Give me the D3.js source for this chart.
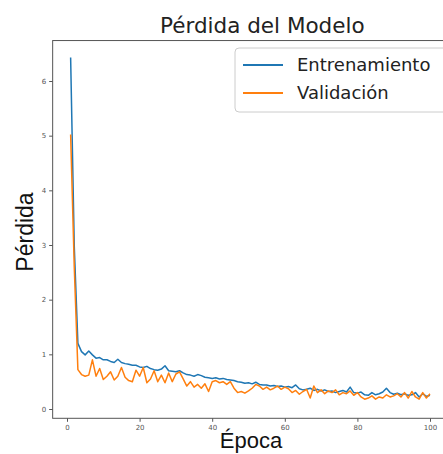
<!DOCTYPE html>
<html><head><meta charset="utf-8">
<script src="https://cdn.jsdelivr.net/npm/d3@7"></script>
<style>html,body{margin:0;padding:0;background:#fff;overflow:hidden}</style>
</head><body>
<svg id="c" width="443" height="454"></svg>
<script>
const epochs = d3.range(1, 101);
const trainLoss = [6.43,2.98,1.2,1.05,0.99,1.06,0.99,0.93,0.94,0.9,
0.9,0.87,0.85,0.91,0.85,0.83,0.82,0.8,0.8,0.77,
0.76,0.78,0.74,0.72,0.71,0.73,0.79,0.7,0.69,0.68,
0.7,0.66,0.63,0.62,0.6,0.63,0.61,0.58,0.57,0.56,
0.57,0.55,0.56,0.54,0.53,0.52,0.5,0.49,0.47,0.48,
0.46,0.49,0.45,0.44,0.44,0.42,0.43,0.41,0.42,0.4,
0.41,0.39,0.44,0.37,0.35,0.36,0.38,0.34,0.36,0.33,
0.35,0.32,0.33,0.3,0.32,0.34,0.31,0.4,0.3,0.29,
0.31,0.26,0.25,0.3,0.26,0.28,0.31,0.38,0.3,0.27,
0.29,0.26,0.28,0.25,0.26,0.3,0.22,0.28,0.23,0.25];
const valLoss = [5.02,2.6,0.72,0.63,0.6,0.62,0.9,0.6,0.74,0.54,
0.6,0.68,0.53,0.6,0.76,0.58,0.52,0.5,0.71,0.6,
0.76,0.48,0.55,0.7,0.5,0.62,0.48,0.66,0.5,0.64,
0.68,0.55,0.42,0.5,0.4,0.45,0.38,0.46,0.32,0.5,
0.52,0.48,0.5,0.45,0.5,0.38,0.3,0.32,0.29,0.33,
0.38,0.45,0.42,0.36,0.4,0.35,0.38,0.42,0.36,0.4,
0.37,0.3,0.34,0.27,0.32,0.36,0.2,0.42,0.3,0.35,
0.28,0.33,0.3,0.35,0.26,0.3,0.28,0.33,0.25,0.3,
0.22,0.18,0.2,0.24,0.18,0.22,0.2,0.26,0.22,0.24,
0.28,0.22,0.3,0.2,0.32,0.22,0.18,0.3,0.2,0.28];
const xTicks = [0,20,40,60,80,100];
const yTicks = [0,1,2,3,4,5,6];
const seriesNames = ["Entrenamiento","Validación"];
const colors = ["#1f77b4","#ff7f0e"];
const title = "Pérdida del Modelo", xLabel = "Época", yLabel = "Pérdida";

const svg = d3.select("#c");
const x = d3.scaleLinear().domain([0,100]).range([67,430]);
const y = d3.scaleLinear().domain([0,6]).range([409,81]);
const xmin=-3.95, xmax=104.95, ymin=-0.17, ymax=6.74;
const L=x(xmin), R=x(xmax), T=y(ymax), B=y(ymin);

// series
const line = d3.line().x((d,i)=>x(epochs[i])).y(d=>y(d));
[trainLoss,valLoss].forEach((s,k)=>{
  svg.append("path").datum(s).attr("d",line).attr("fill","none")
    .attr("stroke",colors[k]).attr("stroke-width",1.5).attr("stroke-linejoin","round");
});

// axes
const ax = svg.append("g").attr("transform",`translate(0,${B})`)
  .call(d3.axisBottom(x).tickValues(xTicks).tickFormat(d3.format("d")).tickSize(3.5).tickPadding(3));
const ay = svg.append("g").attr("transform",`translate(${L},0)`)
  .call(d3.axisLeft(y).tickValues(yTicks).tickFormat(d3.format("d")).tickSize(3.5).tickPadding(3));
[ax,ay].forEach(g=>{
  g.select(".domain").remove();
  g.selectAll("line").attr("stroke","#555");
  g.selectAll("text").attr("font-family","DejaVu Sans").attr("font-size",7).attr("fill","#555");
});
// frame
svg.append("rect").attr("x",L).attr("y",T).attr("width",R-L).attr("height",B-T)
  .attr("fill","none").attr("stroke","#555").attr("stroke-width",1);

// title & labels
svg.append("text").attr("x",(L+R)/2+12).attr("y",33).attr("text-anchor","middle")
  .attr("font-family","DejaVu Sans").attr("font-size",21.5).attr("fill","#222").text(title);
svg.append("text").attr("x",251).attr("y",448).attr("text-anchor","middle")
  .attr("font-family","Liberation Sans").attr("font-size",22).attr("fill","#111").text(xLabel);
svg.append("text").attr("transform","translate(33,232) rotate(-90)").attr("text-anchor","middle")
  .attr("font-family","Liberation Sans").attr("font-size",23).attr("fill","#111").text(yLabel);

// legend
const lg = svg.append("g");
lg.append("rect").attr("x",235).attr("y",48).attr("width",215).attr("height",64).attr("rx",4)
  .attr("fill","#fff").attr("fill-opacity",0.8).attr("stroke","#ccc");
seriesNames.forEach((n,i)=>{
  const yy = 65 + i*28;
  lg.append("line").attr("x1",243).attr("x2",283).attr("y1",yy).attr("y2",yy)
    .attr("stroke",colors[i]).attr("stroke-width",2);
  lg.append("text").attr("x",297).attr("y",yy+6).attr("font-family","DejaVu Sans")
    .attr("font-size",18).attr("fill","#222").text(n);
});
</script>
</body></html>
